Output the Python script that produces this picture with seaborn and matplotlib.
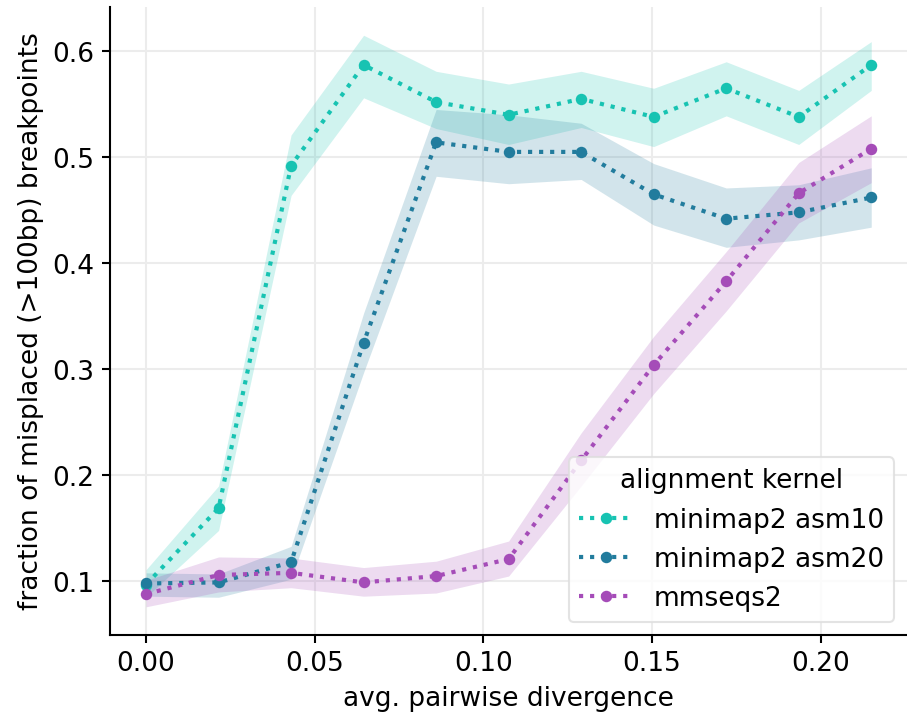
import numpy as np
import pandas as pd
import matplotlib
matplotlib.use("Agg")
import matplotlib.pyplot as plt
import seaborn as sns

# divergence levels
divergence = [0.0, 0.0215, 0.043, 0.0645, 0.086, 0.1075, 0.129, 0.1505, 0.172, 0.1935, 0.215]

kernels = ["minimap2 asm10", "minimap2 asm20", "mmseqs2"]
colors = ["#17c3b2", "#227c9d", "#a54cb8"]

# mean fraction of misplaced breakpoints
asm10_mean = [0.097, 0.169, 0.492, 0.587, 0.552, 0.540, 0.555, 0.538, 0.565, 0.538, 0.587]
asm20_mean = [0.098, 0.099, 0.118, 0.325, 0.514, 0.505, 0.505, 0.465, 0.442, 0.448, 0.462]
mmseqs_mean = [0.088, 0.106, 0.108, 0.099, 0.105, 0.121, 0.214, 0.304, 0.383, 0.466, 0.508]

# confidence band
asm10_lo = [0.085, 0.148, 0.464, 0.556, 0.527, 0.512, 0.528, 0.510, 0.539, 0.512, 0.563]
asm10_hi = [0.111, 0.190, 0.521, 0.615, 0.581, 0.569, 0.581, 0.565, 0.590, 0.563, 0.609]
asm20_lo = [0.086, 0.085, 0.102, 0.297, 0.482, 0.475, 0.479, 0.436, 0.415, 0.422, 0.434]
asm20_hi = [0.108, 0.107, 0.133, 0.353, 0.545, 0.540, 0.532, 0.494, 0.471, 0.474, 0.490]
mmseqs_lo = [0.076, 0.090, 0.094, 0.086, 0.089, 0.105, 0.190, 0.277, 0.355, 0.438, 0.476]
mmseqs_hi = [0.101, 0.123, 0.122, 0.113, 0.119, 0.138, 0.240, 0.331, 0.411, 0.495, 0.539]

means = [asm10_mean, asm20_mean, mmseqs_mean]
lows = [asm10_lo, asm20_lo, mmseqs_lo]
highs = [asm10_hi, asm20_hi, mmseqs_hi]

df = pd.DataFrame({
    "divergence": divergence * 3,
    "fraction": asm10_mean + asm20_mean + mmseqs_mean,
    "alignment kernel": [k for k in kernels for _ in divergence],
})

sns.set_style("ticks")
plt.rcParams["font.family"] = ["DejaVu Sans"]
plt.rcParams["font.size"] = 12.7
plt.rcParams["text.color"] = "black"
plt.rcParams["axes.labelcolor"] = "black"
plt.rcParams["xtick.color"] = "black"
plt.rcParams["ytick.color"] = "black"

fig, ax = plt.subplots(figsize=(6.05, 4.79), dpi=150)
ax.grid(True, color="#ececec", linewidth=1.0)
ax.set_axisbelow(True)

for lo, hi, c in zip(lows, highs, colors):
    ax.fill_between(divergence, lo, hi, color=c, alpha=0.2, linewidth=0)

sns.lineplot(data=df, x="divergence", y="fraction", hue="alignment kernel",
             palette=colors, linestyle=":", linewidth=2.0, marker="o",
             markersize=5.5, markeredgewidth=0, errorbar=None, ax=ax)

ax.set_xlabel("avg. pairwise divergence", fontsize=12.7)
ax.set_ylabel("fraction of misplaced (>100bp) breakpoints", fontsize=12.7)
ax.set_xticks([0.0, 0.05, 0.10, 0.15, 0.20])
ax.set_yticks([0.1, 0.2, 0.3, 0.4, 0.5, 0.6])
ax.tick_params(labelsize=12.7, color="black", labelcolor="black", width=1.0, length=4)
for s in ["left", "bottom"]:
    ax.spines[s].set_color("black")
    ax.spines[s].set_linewidth(1.0)
sns.despine(ax=ax)

leg = ax.legend(title="alignment kernel", loc="lower right", fontsize=12.7,
                title_fontsize=12.7)
leg.get_frame().set_edgecolor("#dddddd")

fig.subplots_adjust(left=0.121, right=1.0, bottom=0.115, top=0.99)
fig.savefig("out.png", dpi=150)
